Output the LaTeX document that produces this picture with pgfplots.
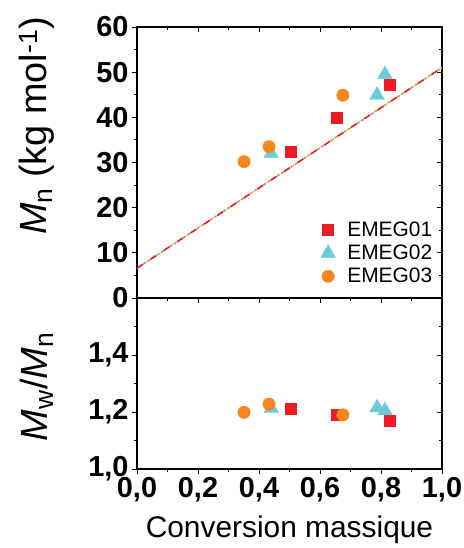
\documentclass[border=0pt]{standalone}
\usepackage{fontspec}
\setmainfont{Liberation Sans}
\usepackage{pgfplots}
\pgfplotsset{compat=1.18}
\definecolor{cred}{HTML}{ED1C24}
\definecolor{ccyan}{HTML}{6DCBD9}
\definecolor{corange}{HTML}{F7861F}
\pgfplotsset{
  common/.style={scale only axis, width=305bp, xmin=0, xmax=1,
    xtick={0,0.2,0.4,0.6,0.8,1}, minor x tick num=1,
    tick style={black, line width=0.9pt}, axis line style={line width=1.1pt},
    major tick length=5bp, minor tick length=3bp,
    ticklabel style={font=\bfseries\fontsize{29}{29}\selectfont}},
  mirror/.style={tick align=inside, xtick pos=right, ytick pos=right,
    xticklabels={}, yticklabels={}, axis line style={draw=none}},
  s1/.style={only marks, mark=square*, mark size=5.5bp, color=cred},
  s2/.style={only marks, mark=triangle*, mark size=8.5bp, color=ccyan},
  s3/.style={only marks, mark=*, mark size=6.2bp, color=corange},
}
\begin{document}
\begin{tikzpicture}
\path[use as bounding box] (-137bp,-79bp) rectangle (327bp,469bp);
% ---------- top axis ----------
\begin{axis}[common, at={(0,171bp)}, height=271bp, ymin=0, ymax=60,
  ytick={0,10,20,30,40,50,60}, yticklabels={0,10,20,30,40,50,60}, minor y tick num=1,
  xticklabels={}, tick align=outside, xtick pos=left, ytick pos=left,
  ylabel={\fontsize{38}{38}\selectfont\textit{M}\textsubscript{n} (kg mol\textsuperscript{-1})},
  ylabel style={at={(rel axis cs:0,0.635)}, anchor=center, yshift=100bp},
  legend style={draw=none, fill=none, font=\fontsize{21}{25}\selectfont,
    at={(rel axis cs:0.985,0.035)}, anchor=south east, row sep=3bp},
  legend image code/.code={\path (-9bp,0bp) (17bp,0bp);
    \draw[#1] plot coordinates {(0bp,0bp)};},
  legend cell align=left]
\addplot[ccyan, densely dotted, line width=1.4pt, forget plot] coordinates {(0,6.6) (1,51)};
\addplot[cred, dash pattern=on 7bp off 9bp, line width=1.6pt, forget plot] coordinates {(0,6.6) (1,51)};
\addplot[corange, dash pattern=on 2bp off 3bp on 2bp off 9bp, dash phase=-8bp, line width=1.6pt, forget plot] coordinates {(0,6.6) (1,51)};
\addplot[s1] coordinates {(0.504,32.4) (0.656,40.0) (0.827,47.3)};
\addplot[s2] coordinates {(0.440,32.0) (0.787,44.9) (0.813,49.5)};
\addplot[s3] coordinates {(0.351,30.2) (0.433,33.5) (0.675,44.9)};
\legend{EMEG01,EMEG02,EMEG03}
\end{axis}
\begin{axis}[common, mirror, at={(0,171bp)}, height=271bp, ymin=0, ymax=60,
  ytick={0,10,20,30,40,50,60}, minor y tick num=1]
\end{axis}
% ---------- bottom axis ----------
\begin{axis}[common, at={(0,0)}, height=171bp, ymin=1.0, ymax=1.6,
  ytick={1.0,1.2,1.4}, yticklabels={{1,0},{1,2},{1,4}}, minor ytick={1.1,1.3,1.5},
  xticklabels={{0,0},{0,2},{0,4},{0,6},{0,8},{1,0}},
  tick align=outside, xtick pos=left, ytick pos=left,
  ylabel={\fontsize{38}{38}\selectfont\textit{M}\textsubscript{w}/\textit{M}\textsubscript{n}},
  ylabel style={at={(rel axis cs:0,0.48)}, anchor=center, yshift=100bp},
  xlabel={\fontsize{30}{30}\selectfont Conversion massique},
  xlabel style={at={(rel axis cs:0.5,0)}, anchor=center, yshift=-61bp}]
\addplot[s1] coordinates {(0.504,1.210) (0.656,1.190) (0.827,1.168)};
\addplot[s2] coordinates {(0.440,1.213) (0.787,1.215) (0.813,1.205)};
\addplot[s3] coordinates {(0.351,1.199) (0.433,1.228) (0.675,1.190)};
\end{axis}
\begin{axis}[common, mirror, at={(0,0)}, height=171bp, ymin=1.0, ymax=1.6,
  ytick={1.0,1.2,1.4}, minor ytick={1.1,1.3,1.5}]
\end{axis}
\end{tikzpicture}
\end{document}
